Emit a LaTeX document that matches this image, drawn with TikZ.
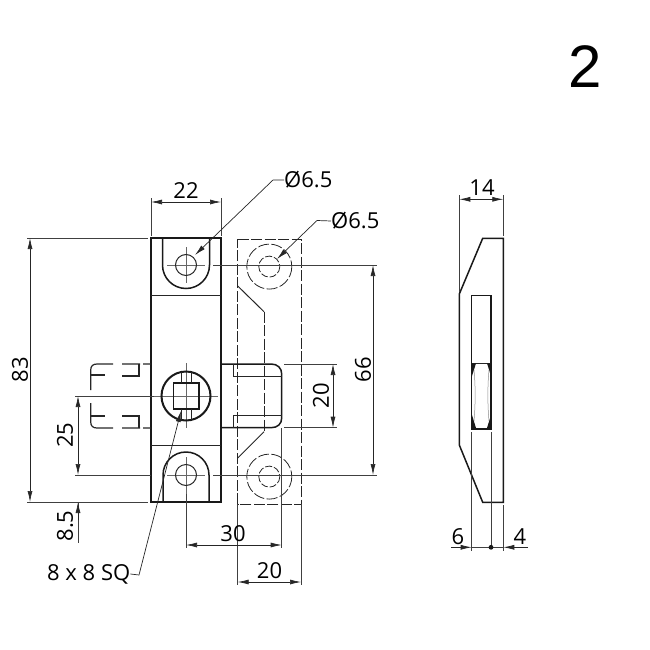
\documentclass[tikz,border=0pt]{standalone}
\usepackage{fontspec}
\setmainfont{Open Sans}
\newfontfamily\bigfont{Liberation Sans}
\usetikzlibrary{arrows.meta}
\tikzset{
  x=1pt,y=-1pt,
  thick line/.style={line width=1.5pt,black!90},
  thin line/.style={line width=0.7pt,black!75},
  medium line/.style={line width=1pt,black!85},
  center line/.style={line width=0.7pt,black!60},
  hidden line/.style={line width=1.2pt,black!85},
  ghost line/.style={line width=0.8pt,black!85,dash pattern=on 11pt off 2.5pt},
  dim/.style={line width=0.7pt,black!85,{Latex[length=11pt,width=5pt]}-{Latex[length=11pt,width=5pt]}},
  tip end/.style={line width=0.7pt,black!85,-{Latex[length=11pt,width=5pt]}},
  label/.style={inner sep=0pt,font=\fontsize{22}{22}\selectfont},
  vlabel/.style={label,rotate=90},
}
\begin{document}
\begin{tikzpicture}
\useasboundingbox (0,0) rectangle (650,650);
% centre lines
\draw[center line] (167,265)--(205,265) (186,247)--(186,283);
\draw[center line] (154,396)--(218,396) (186,363)--(186,428);
\draw[center line] (167,475)--(205,475) (186,457)--(186,494);
% body
\draw[thick line] (151,238) rectangle (221,502);
\draw[medium line] (151,295.5)--(221,295.5) (151,445)--(221,445);
\draw[thick line] (162.5,238)--(162.5,265) .. controls (162.5,278) and (173,288.5) .. (186,288.5) .. controls (199,288.5) and (209.5,278) .. (209.5,265)--(209.5,238);
\draw[thick line] (163,502)--(163,475) .. controls (163,462.3) and (173.3,452) .. (186,452) .. controls (198.7,452) and (209,462.3) .. (209,475)--(209,502);
\draw[medium line] (186,265) circle[radius=10.5] (186,475) circle[radius=10.5];
% square drive
\draw[line width=2pt,black!90] (186,396) circle[radius=24.5];
\draw[line width=1.2pt,black!90] (173.5,383) rectangle (199,409);
\draw[medium line] (181,372)--(181,383) (191,372)--(191,383) (181,409)--(181,420) (191,409)--(191,420);
% hidden bolt
\draw[hidden line] (151,364)--(143,364) (140,364)--(122,364) (113,364)--(97,364) .. controls (93,364) and (90.7,366) .. (90.7,370)--(90.7,390);
\draw[hidden line] (151,428)--(143,428) (140,428)--(122,428) (113,428)--(97,428) .. controls (93,428) and (90.7,426) .. (90.7,422)--(90.7,403);
\draw[hidden line] (91,375)--(105,375) (122,376)--(139,376)--(139,364);
\draw[hidden line] (91,416)--(105,416) (122,416)--(139,416)--(139,428);
% ghost part
\draw[ghost line] (237.7,239)--(301,239)--(301,504)--(237.7,504)--cycle;
\draw[ghost line] (269.3,266.6) circle[radius=22.5] (269.3,476.6) circle[radius=22.5];
\draw[ghost line,dash pattern=on 7pt off 2pt] (269.3,266.6) circle[radius=10.5] (269.3,476.6) circle[radius=10.5];
\draw[medium line] (237.7,286)--(264,311.7);
\draw[medium line] (237.7,458)--(264,431.7);
\draw[ghost line] (264,311.7)--(264,431.7);
% tongue
\draw[thick line] (221,364)--(271,364) .. controls (277.5,364) and (281.7,368) .. (281.7,374)--(281.7,418) .. controls (281.7,424) and (277.5,427.7) .. (271,427.7)--(221,427.7);
\draw[medium line] (233.3,364)--(233.3,376.7)--(281.7,376.7);
\draw[medium line] (233.3,427.7)--(233.3,415)--(281.7,415);
% extension lines
\draw[thin line] (27,238)--(148,238) (27,502)--(148,502);
\draw[thin line] (151,198)--(151,236) (221,198)--(221,236);
\draw[thin line] (75,396)--(154,396) (75,475)--(151,475);
\draw[thin line] (78,502)--(78,543);
\draw[thin line] (213,265)--(377,265) (213,475)--(377,475);
\draw[thin line] (284,364)--(336.7,364) (284,427.7)--(336.7,427.7);
\draw[thin line] (186,494)--(186,548) (281.7,428)--(281.7,548);
\draw[thin line] (237.7,504)--(237.7,585) (301,504)--(301,585);
% dimensions
\coordinate (d83a) at (30,238); \coordinate (d83b) at (30,502);
\draw[dim] (d83a)--(d83b);
\node[vlabel] (t83) at (20,370) {83};
\coordinate (d22a) at (151,202); \coordinate (d22b) at (221,202);
\draw[dim] (d22a)--(d22b);
\node[label] (t22) at (186,191) {22};
\coordinate (d25a) at (78,396); \coordinate (d25b) at (78,475);
\draw[dim] (d25a)--(d25b);
\node[vlabel] (t25) at (65,435) {25};
\coordinate (d85a) at (78,520); \coordinate (d85b) at (78,502);
\draw[tip end] (d85a)--(d85b);
\node[vlabel] (t85) at (65,526) {8.5};
\coordinate (d20a) at (333,364); \coordinate (d20b) at (333,427.7);
\draw[dim] (d20a)--(d20b);
\node[vlabel] (t20v) at (321,396) {20};
\coordinate (d66a) at (373,265); \coordinate (d66b) at (373,475);
\draw[dim] (d66a)--(d66b);
\node[vlabel] (t66) at (363,370) {66};
\coordinate (d30a) at (186,545); \coordinate (d30b) at (281.7,545);
\draw[dim] (d30a)--(d30b);
\node[label] (t30) at (233,534) {30};
\coordinate (d20c) at (237.7,582); \coordinate (d20d) at (301,582);
\draw[dim] (d20c)--(d20d);
\node[label] (t20h) at (269.5,571) {20};
% leaders
\node[label,anchor=west] (phi1) at (284,180) {Ø6.5};
\node[label,anchor=west] (phi2) at (331,221) {Ø6.5};
\node[label,anchor=west] (sq) at (47,574) {8 x 8 SQ};
\coordinate (l1) at (195,255); \coordinate (l2) at (277,259); \coordinate (l3) at (181,411);
\draw[tip end] (phi1.west)--(273,180)--(l1);
\draw[tip end] (phi2.west)--(317,220.5)--(l2);
\draw[tip end] (sq.east)--(139,575)--(l3);
% side view
\draw[thick line] (482.7,238.3)--(503.3,238.3)--(503.3,502.3)--(482.7,502.3)--(459.3,445)--(459.3,294)--cycle;
\draw[thick line] (471.7,295.7) rectangle (491,429);
\draw[line width=2pt,black!90] (472,428.5)--(490.7,428.5);
\draw[medium line] (472,363.3)--(491,363.3);
\fill[black!90] (472,363.3)--(476,363.3)--(472,376)--cycle (491,363.3)--(487,363.3)--(491,376)--cycle
  (472,428)--(476,428)--(472,415)--cycle (491,428)--(487,428)--(491,415)--cycle;
\draw[line width=0.5pt,black!45] (474,370) .. controls (475.5,385) and (475.5,405) .. (474,421);
\draw[line width=0.5pt,black!45] (489,370) .. controls (487.5,385) and (487.5,405) .. (489,421);
\draw[thin line] (459.3,195)--(459.3,292) (503.3,195)--(503.3,236);
\draw[thin line] (471.7,432)--(471.7,551) (491,432)--(491,547) (503.3,505)--(503.3,551);
\coordinate (d14a) at (459.3,199.3); \coordinate (d14b) at (503.3,199.3);
\draw[dim] (d14a)--(d14b);
\node[label] (t14) at (482,188) {14};
\coordinate (d6a) at (451,547.3); \coordinate (d6b) at (471.7,547.3);
\coordinate (d4a) at (528,547.3); \coordinate (d4b) at (503.3,547.3);
\draw[tip end] (d6a)--(d6b);
\draw[tip end] (d4a)--(d4b);
\draw[thin line] (d6b)--(d4b);
\fill[black!90] (491,547.3) circle[radius=2.4];
\node[label] (t6) at (458,537) {6};
\node[label] (t4) at (520,537) {4};
\node[inner sep=0pt,font=\fontsize{60}{60}\selectfont\bigfont] (n2) at (585,67) {2};
\end{tikzpicture}
\end{document}
